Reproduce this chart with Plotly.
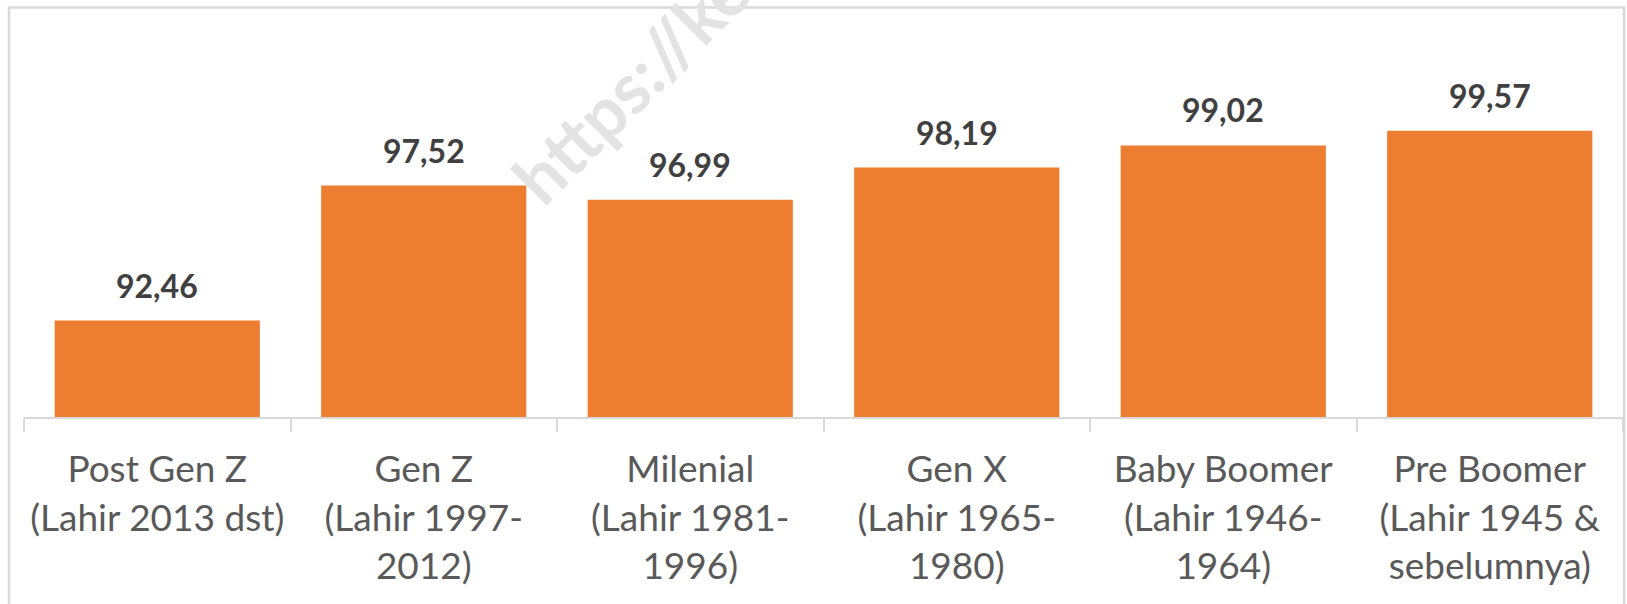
import plotly.graph_objects as go

categories = [
    "Post Gen Z<br>(Lahir 2013 dst)",
    "Gen Z<br>(Lahir 1997-<br>2012)",
    "Milenial<br>(Lahir 1981-<br>1996)",
    "Gen X<br>(Lahir 1965-<br>1980)",
    "Baby Boomer<br>(Lahir 1946-<br>1964)",
    "Pre Boomer<br>(Lahir 1945 &amp;<br>sebelumnya)",
]
values = [92.46, 97.52, 96.99, 98.19, 99.02, 99.57]
labels = [f"{v:.2f}".replace(".", ",") for v in values]

BAR = "#ED7D31"
W, H = 1627, 604
ML, MR, MT, MB = 24, 4, 9, 187
y_min = 88.85
px_per_unit = 26.7
y_max = y_min + (H - MT - MB) / px_per_unit
pw = W - ML - MR
ph = H - MT - MB


def px_x(px):
    return (px - ML) / pw


def px_y(py):
    return (H - MB - py) / ph


fig = go.Figure()
fig.add_trace(go.Bar(
    x=categories, y=values,
    marker=dict(color=BAR, line=dict(width=0)),
    hoverinfo="skip",
))

for c, v, t in zip(categories, values, labels):
    fig.add_annotation(
        x=c, y=v, xref="x", yref="y", text=t, showarrow=False,
        yanchor="bottom", yshift=14,
        font=dict(family="Lato", size=32, color="#404040", weight="bold"),
    )

# watermark (cut off at the top edge, as in the source image)
fig.add_annotation(
    x=px_x(630), y=px_y(84),
    xref="paper", yref="paper", text="https://ke", showarrow=False,
    textangle=-45, xanchor="center", yanchor="middle",
    font=dict(family="Lato", size=70, color="#E3E3E3", weight="bold"),
)

# chart border
fig.add_shape(
    type="rect", xref="paper", yref="paper",
    x0=px_x(9), x1=px_x(1624),
    y0=px_y(640), y1=px_y(7.5),
    line=dict(color="#D9D9D9", width=2.5), fillcolor="rgba(0,0,0,0)",
    layer="below",
)

fig.update_layout(
    width=W, height=H,
    margin=dict(l=ML, r=MR, t=MT, b=MB, autoexpand=False),
    paper_bgcolor="white", plot_bgcolor="white",
    bargap=0.23, showlegend=False,
    xaxis=dict(
        showline=True, linecolor="#D9D9D9", linewidth=2,
        ticks="outside", tickson="boundaries", ticklen=13,
        tickcolor="#D9D9D9", tickwidth=2,
        tickfont=dict(family="Lato", size=37, color="#595959"),
        ticklabelstandoff=19,
        showgrid=False, zeroline=False,
    ),
    yaxis=dict(
        range=[y_min, y_max], visible=False, showgrid=False, zeroline=False,
    ),
)

fig.write_html(
    "out.html",
    config={"displayModeBar": False},
    post_script="document.body.style.margin='0';document.body.style.overflow='hidden';",
)
